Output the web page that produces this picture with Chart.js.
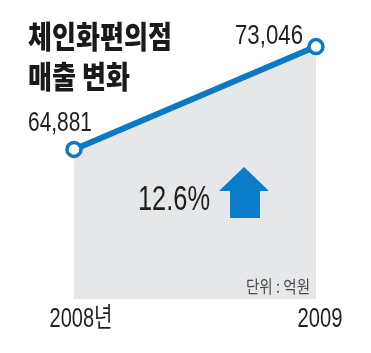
<!DOCTYPE html>
<html>
<head>
<meta charset="utf-8">
<script src="https://cdn.jsdelivr.net/npm/chart.js@4"></script>
<style>
  html, body { margin: 0; padding: 0; background: #ffffff; }
  #wrap { width: 371px; height: 353px; position: relative; }
</style>
</head>
<body>
<div id="wrap"><canvas id="salesChart" width="371" height="353"></canvas></div>
<script>
// chart data
var years = ["2008년", "2009"];
var sales = [64881, 73046];
var valueLabels = ["64,881", "73,046"];
var titleLines = ["체인화편의점", "매출 변화"];
var growthText = "12.6%";
var unitText = "단위 : 억원";

var blue = "#0b79c3";
var numFont = "'Liberation Sans', 'Noto Sans CJK KR', sans-serif";
var krFont = "'Noto Sans CJK KR', sans-serif";

// draw text squeezed to a given width (the original uses a condensed face)
function fitText(ctx, text, x, y, font, width, color, align) {
  ctx.save();
  ctx.font = font;
  ctx.fillStyle = color;
  ctx.textBaseline = "alphabetic";
  var w = ctx.measureText(text).width;
  var sx = width / w;
  var left = x;
  if (align == "center") left = x - width / 2;
  if (align == "right") left = x - width;
  ctx.translate(left, y);
  ctx.scale(sx, 1);
  ctx.textAlign = "left";
  ctx.fillText(text, 0, 0);
  ctx.restore();
}

var decorPlugin = {
  id: "decor",
  afterDatasetsDraw: function (chart) {
    var ctx = chart.ctx;
    var pts = chart.getDatasetMeta(0).data;

    // title
    fitText(ctx, titleLines[0], 28, 48, "900 31px " + krFont, 144, "#1a1a1a");
    fitText(ctx, titleLines[1], 28, 88, "900 31px " + krFont, 102, "#1a1a1a");

    // value labels above the points
    fitText(ctx, valueLabels[0], pts[0].x - 46, pts[0].y - 18, "28px " + numFont, 64, "#1f1f1f");
    fitText(ctx, valueLabels[1], pts[1].x - 81, pts[1].y - 3, "28px " + numFont, 68, "#1f1f1f");

    // growth text and arrow
    fitText(ctx, growthText, 138, 210, "35px " + numFont, 72, "#1f1f1f");
    ctx.save();
    ctx.fillStyle = "#0a7cc8";
    ctx.beginPath();
    ctx.moveTo(244, 167);
    ctx.lineTo(269, 191);
    ctx.lineTo(260, 191);
    ctx.lineTo(260, 218);
    ctx.lineTo(230, 218);
    ctx.lineTo(230, 191);
    ctx.lineTo(219, 191);
    ctx.closePath();
    ctx.fill();
    ctx.restore();

    // unit note
    fitText(ctx, unitText, 310, 293, "17px " + krFont, 64, "#4a4a4a", "right");

    // year labels
    var xs = chart.scales.x;
    fitText(ctx, years[0], xs.getPixelForValue(0) + 7, 327, "27px " + numFont, 63, "#1f1f1f", "center");
    fitText(ctx, years[1], xs.getPixelForValue(1) + 4, 327, "27px " + numFont, 45, "#1f1f1f", "center");
  }
};

var ctx = document.getElementById("salesChart").getContext("2d");
new Chart(ctx, {
  type: "line",
  data: {
    labels: years,
    datasets: [
      {
        data: sales,
        borderColor: blue,
        borderWidth: 6,
        backgroundColor: "#e6e7e9",
        fill: "start",
        tension: 0,
        pointRadius: 7,
        pointBorderWidth: 3.5,
        pointBackgroundColor: "#ffffff",
        pointBorderColor: blue,
        clip: false,
      },
    ],
  },
  options: {
    responsive: false,
    animation: false,
    events: [],
    layout: {
      padding: { left: 74, right: 55, top: 22, bottom: 54 },
    },
    plugins: {
      legend: { display: false },
      title: { display: false },
      tooltip: { enabled: false },
    },
    scales: {
      x: { display: false, offset: false },
      y: { display: false, min: 53000, max: 75000 },
    },
  },
  plugins: [decorPlugin],
});
</script>
</body>
</html>
